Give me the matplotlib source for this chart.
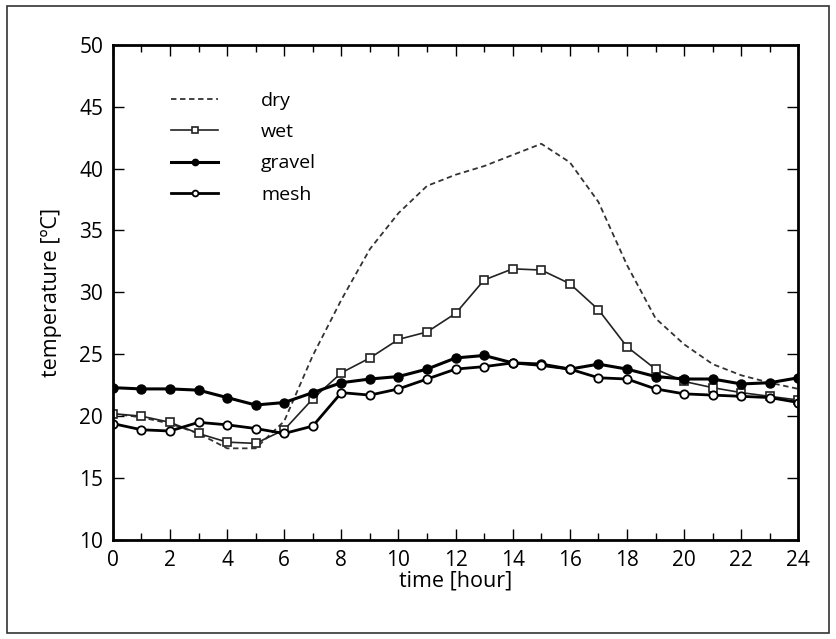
import matplotlib
matplotlib.use("Agg")
import matplotlib.pyplot as plt
from matplotlib.patches import Rectangle
from matplotlib.ticker import MultipleLocator

plt.rcParams['font.family'] = ['Open Sans', 'DejaVu Sans']

hours = list(range(25))
dry = [20.2, 19.9, 19.4, 18.6, 17.4, 17.4, 19.6, 24.9, 29.4, 33.5, 36.4, 38.6, 39.5,
       40.2, 41.1, 42.0, 40.5, 37.3, 32.2, 27.9, 25.8, 24.2, 23.3, 22.7, 22.2]
wet = [20.2, 20.0, 19.5, 18.6, 17.9, 17.8, 18.9, 21.4, 23.5, 24.7, 26.2, 26.8, 28.3,
       31.0, 31.9, 31.8, 30.7, 28.6, 25.6, 23.8, 22.8, 22.3, 21.9, 21.6, 21.3]
gravel = [22.3, 22.2, 22.2, 22.1, 21.5, 20.9, 21.1, 21.9, 22.7, 23.0, 23.2, 23.8, 24.7,
          24.9, 24.3, 24.2, 23.8, 24.2, 23.8, 23.2, 23.0, 23.0, 22.6, 22.7, 23.1]
mesh = [19.4, 18.9, 18.8, 19.5, 19.3, 19.0, 18.6, 19.2, 21.9, 21.7, 22.2, 23.0, 23.8,
        24.0, 24.3, 24.1, 23.8, 23.1, 23.0, 22.2, 21.8, 21.7, 21.6, 21.5, 21.1]

fig = plt.figure(figsize=(8.36, 6.39), dpi=100)
fig.patches.append(Rectangle((0.008, 0.01), 0.984, 0.981, transform=fig.transFigure,
                             fill=False, edgecolor='#333333', linewidth=1.2))
ax = fig.add_axes([0.135, 0.155, 0.82, 0.775])

ax.plot(hours, dry, color='#333333', linestyle=(0, (3, 2)), linewidth=1.3, label='dry')
ax.plot(hours, wet, color='#222222', linewidth=1.2, marker='s', markersize=6,
        markerfacecolor='white', markeredgecolor='#222222', markeredgewidth=1.2, label='wet')
ax.plot(hours, gravel, color='black', linewidth=2.2, marker='o', markersize=6.5,
        markerfacecolor='black', label='gravel')
ax.plot(hours, mesh, color='black', linewidth=2.0, marker='o', markersize=6,
        markerfacecolor='white', markeredgecolor='black', markeredgewidth=1.3, label='mesh')

ax.set_xlim(0, 24)
ax.set_ylim(10, 50)
ax.xaxis.set_major_locator(MultipleLocator(2))
ax.xaxis.set_minor_locator(MultipleLocator(1))
ax.yaxis.set_major_locator(MultipleLocator(5))
ax.tick_params(which='both', direction='in', top=True, right=True, labelsize=15, pad=7)
ax.tick_params(which='major', length=8, width=1)
ax.tick_params(which='minor', length=5, width=1)
for s in ax.spines.values():
    s.set_linewidth(2)

ax.set_xlabel('time [hour]', fontsize=15.5, labelpad=0)
ax.set_ylabel('temperature [ºC]', fontsize=15.5, labelpad=12)

ax.legend(loc='upper left', bbox_to_anchor=(0.06, 0.94), frameon=False, fontsize=14,
          handlelength=2.4, handletextpad=2.2, numpoints=1, labelspacing=0.68,
          markerscale=0.7)

fig.savefig('out.png', dpi=100)
